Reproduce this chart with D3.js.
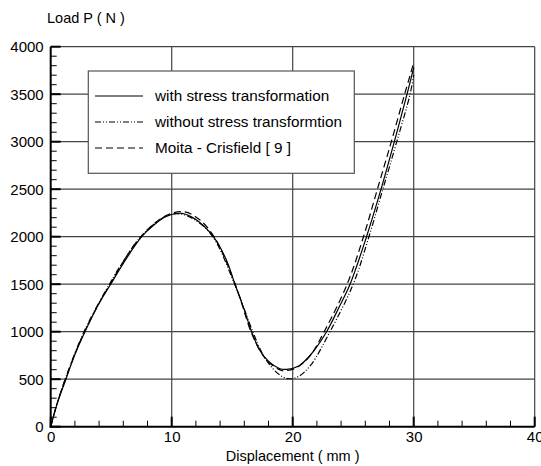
<!DOCTYPE html>
<html>
<head>
<meta charset="utf-8">
<script src="https://cdn.jsdelivr.net/npm/d3@7"></script>
<style>
  body { margin: 0; background: #fff; }
  text { font-family: "Liberation Sans", Arial, sans-serif; fill: #000; }
</style>
</head>
<body>
<div id="chart"></div>
<script>
// chart size
var svgWidth = 541;
var svgHeight = 466;

// plot area edges (pixels)
var margin = { top: 46.7, right: 6.3, bottom: 39.3, left: 50.7 };
var width = svgWidth - margin.left - margin.right;
var height = svgHeight - margin.top - margin.bottom;

// data: displacement (mm) / load (N)
var withX    = [0, 0.5, 1.26, 2, 2.83, 4, 4.96, 6, 7.52, 8.5, 9.5, 10.83, 12, 13.44, 14.5, 15.23, 16, 16.6, 17.3, 18, 18.95, 19.5, 20.5, 21.5, 22.8, 23.8, 24.74, 26.1, 27.3, 28.4, 29.45, 30];
var withY    = [0, 230, 500, 760, 1000, 1300, 1500, 1720, 2000, 2120, 2210, 2246, 2180, 2000, 1760, 1500, 1230, 1000, 800, 690, 610, 604, 640, 760, 1000, 1250, 1500, 2000, 2500, 3000, 3500, 3780];

var withoutX = [0, 0.5, 1.2, 2.75, 4.85, 6, 7.45, 9.5, 10.7, 12, 13.4, 15.2, 16.7, 17.5, 18.3, 19.1, 19.7, 20.5, 21.5, 23.08, 25.0, 26.3, 27.45, 28.6, 29.7, 30];
var withoutY = [0, 230, 500, 1000, 1500, 1740, 2000, 2215, 2240, 2170, 2000, 1500, 1000, 770, 620, 530, 505, 530, 650, 1000, 1500, 2000, 2500, 3000, 3500, 3700];

var moitaX   = [0, 0.5, 1.2, 2.8, 4.9, 7.45, 9.5, 11, 12.2, 13.5, 15.25, 16.55, 17.3, 18, 19, 19.4, 20.3, 21.4, 22.6, 24.5, 25.85, 27.0, 28.15, 29.25, 30];
var moitaY   = [0, 230, 500, 1000, 1500, 2000, 2220, 2262, 2190, 2000, 1500, 1000, 800, 680, 595, 590, 620, 740, 1000, 1500, 2000, 2500, 3000, 3500, 3830];

var xTicks = [0, 10, 20, 30, 40];
var yTicks = [0, 500, 1000, 1500, 2000, 2500, 3000, 3500, 4000];
var legendLabels = ["with stress transformation", "without stress transformtion", "Moita - Crisfield [ 9 ]"];

var svg = d3.select("#chart")
  .append("svg")
  .attr("width", svgWidth)
  .attr("height", svgHeight);

var chartGroup = svg.append("g")
  .attr("transform", `translate(${margin.left}, ${margin.top})`);

var xScale = d3.scaleLinear().domain([0, 40]).range([0, width]);
var yScale = d3.scaleLinear().domain([0, 4000]).range([height, 0]);

// grid lines
chartGroup.append("g")
  .selectAll("line")
  .data(xTicks.slice(1))
  .enter()
  .append("line")
  .attr("x1", d => xScale(d)).attr("x2", d => xScale(d))
  .attr("y1", 0).attr("y2", height)
  .attr("stroke", "#444")
  .attr("stroke-width", 1.2);

chartGroup.append("g")
  .selectAll("line")
  .data(yTicks.slice(1))
  .enter()
  .append("line")
  .attr("x1", 0).attr("x2", width)
  .attr("y1", d => yScale(d)).attr("y2", d => yScale(d))
  .attr("stroke", "#444")
  .attr("stroke-width", 1.2);

// minor + major ticks pointing inside
var xMinor = d3.range(0, 40.01, 2);
var yMinor = d3.range(0, 4000.1, 100);

chartGroup.append("g")
  .selectAll("line")
  .data(xMinor)
  .enter()
  .append("line")
  .attr("x1", d => xScale(d)).attr("x2", d => xScale(d))
  .attr("y1", height).attr("y2", d => height - (d % 10 === 0 ? 10 : 6))
  .attr("stroke", "#000")
  .attr("stroke-width", d => d % 10 === 0 ? 2 : 1);

chartGroup.append("g")
  .selectAll("line")
  .data(yMinor)
  .enter()
  .append("line")
  .attr("x1", 0).attr("x2", d => (d % 500 === 0 ? 10 : 6))
  .attr("y1", d => yScale(d)).attr("y2", d => yScale(d))
  .attr("stroke", "#000")
  .attr("stroke-width", d => d % 500 === 0 ? 2 : 1);

// axis lines
chartGroup.append("line")
  .attr("x1", -1).attr("x2", width)
  .attr("y1", height).attr("y2", height)
  .attr("stroke", "#000").attr("stroke-width", 2);
chartGroup.append("line")
  .attr("x1", 0).attr("x2", 0)
  .attr("y1", 0).attr("y2", height + 1)
  .attr("stroke", "#000").attr("stroke-width", 2);

// tick labels through d3 axes
var bottomAxis = d3.axisBottom(xScale).tickValues(xTicks).tickFormat(d3.format("d")).tickSize(0).tickPadding(5);
var leftAxis = d3.axisLeft(yScale).tickValues(yTicks).tickFormat(d3.format("d")).tickSize(0).tickPadding(7);

var xAxis = chartGroup.append("g")
  .attr("transform", `translate(0, ${height})`)
  .call(bottomAxis);
var yAxis = chartGroup.append("g")
  .call(leftAxis);

[xAxis, yAxis].forEach(function(ax) {
  ax.select(".domain").remove();
  ax.selectAll("text")
    .style("font-family", '"Liberation Sans", Arial, sans-serif')
    .style("font-size", "15px")
    .attr("fill", "#000");
});

// curves
var line = d3.line()
  .x(d => xScale(d[0]))
  .y(d => yScale(d[1]))
  .curve(d3.curveCatmullRom.alpha(0.5));

var series = [
  { xs: withX, ys: withY, dash: null },
  { xs: withoutX, ys: withoutY, dash: "6,2,1,2,1,2" },
  { xs: moitaX, ys: moitaY, dash: "7,4" }
];

series.forEach(function(s) {
  var pts = s.xs.map((x, i) => [x, s.ys[i]]);
  chartGroup.append("path")
    .datum(pts)
    .attr("d", line)
    .attr("fill", "none")
    .attr("stroke", "#000")
    .attr("stroke-width", 1.2)
    .attr("stroke-dasharray", s.dash);
});

// legend box (opaque, covers grid)
var legend = svg.append("g");
legend.append("rect")
  .attr("x", 88.3).attr("y", 71)
  .attr("width", 266).attr("height", 102.3)
  .attr("fill", "#fff")
  .attr("stroke", "#555")
  .attr("stroke-width", 1.2);

legendLabels.forEach(function(lbl, i) {
  var ly = 96 + i * 26;
  legend.append("line")
    .attr("x1", 95).attr("x2", 143)
    .attr("y1", ly).attr("y2", ly)
    .attr("stroke", "#000")
    .attr("stroke-width", 1.2)
    .attr("stroke-dasharray", series[i].dash);
  legend.append("text")
    .attr("x", 155).attr("y", ly)
    .attr("dy", "0.35em")
    .style("font-size", "15.3px")
    .text(lbl);
});

// axis titles
svg.append("text")
  .attr("x", 47).attr("y", 18)
  .attr("dy", "0.35em")
  .style("font-size", "14.5px")
  .text("Load P ( N )");

svg.append("text")
  .attr("x", margin.left + xScale(20)).attr("y", 456)
  .attr("dy", "0.35em")
  .attr("text-anchor", "middle")
  .style("font-size", "14.5px")
  .text("Displacement ( mm )");
</script>
</body>
</html>
